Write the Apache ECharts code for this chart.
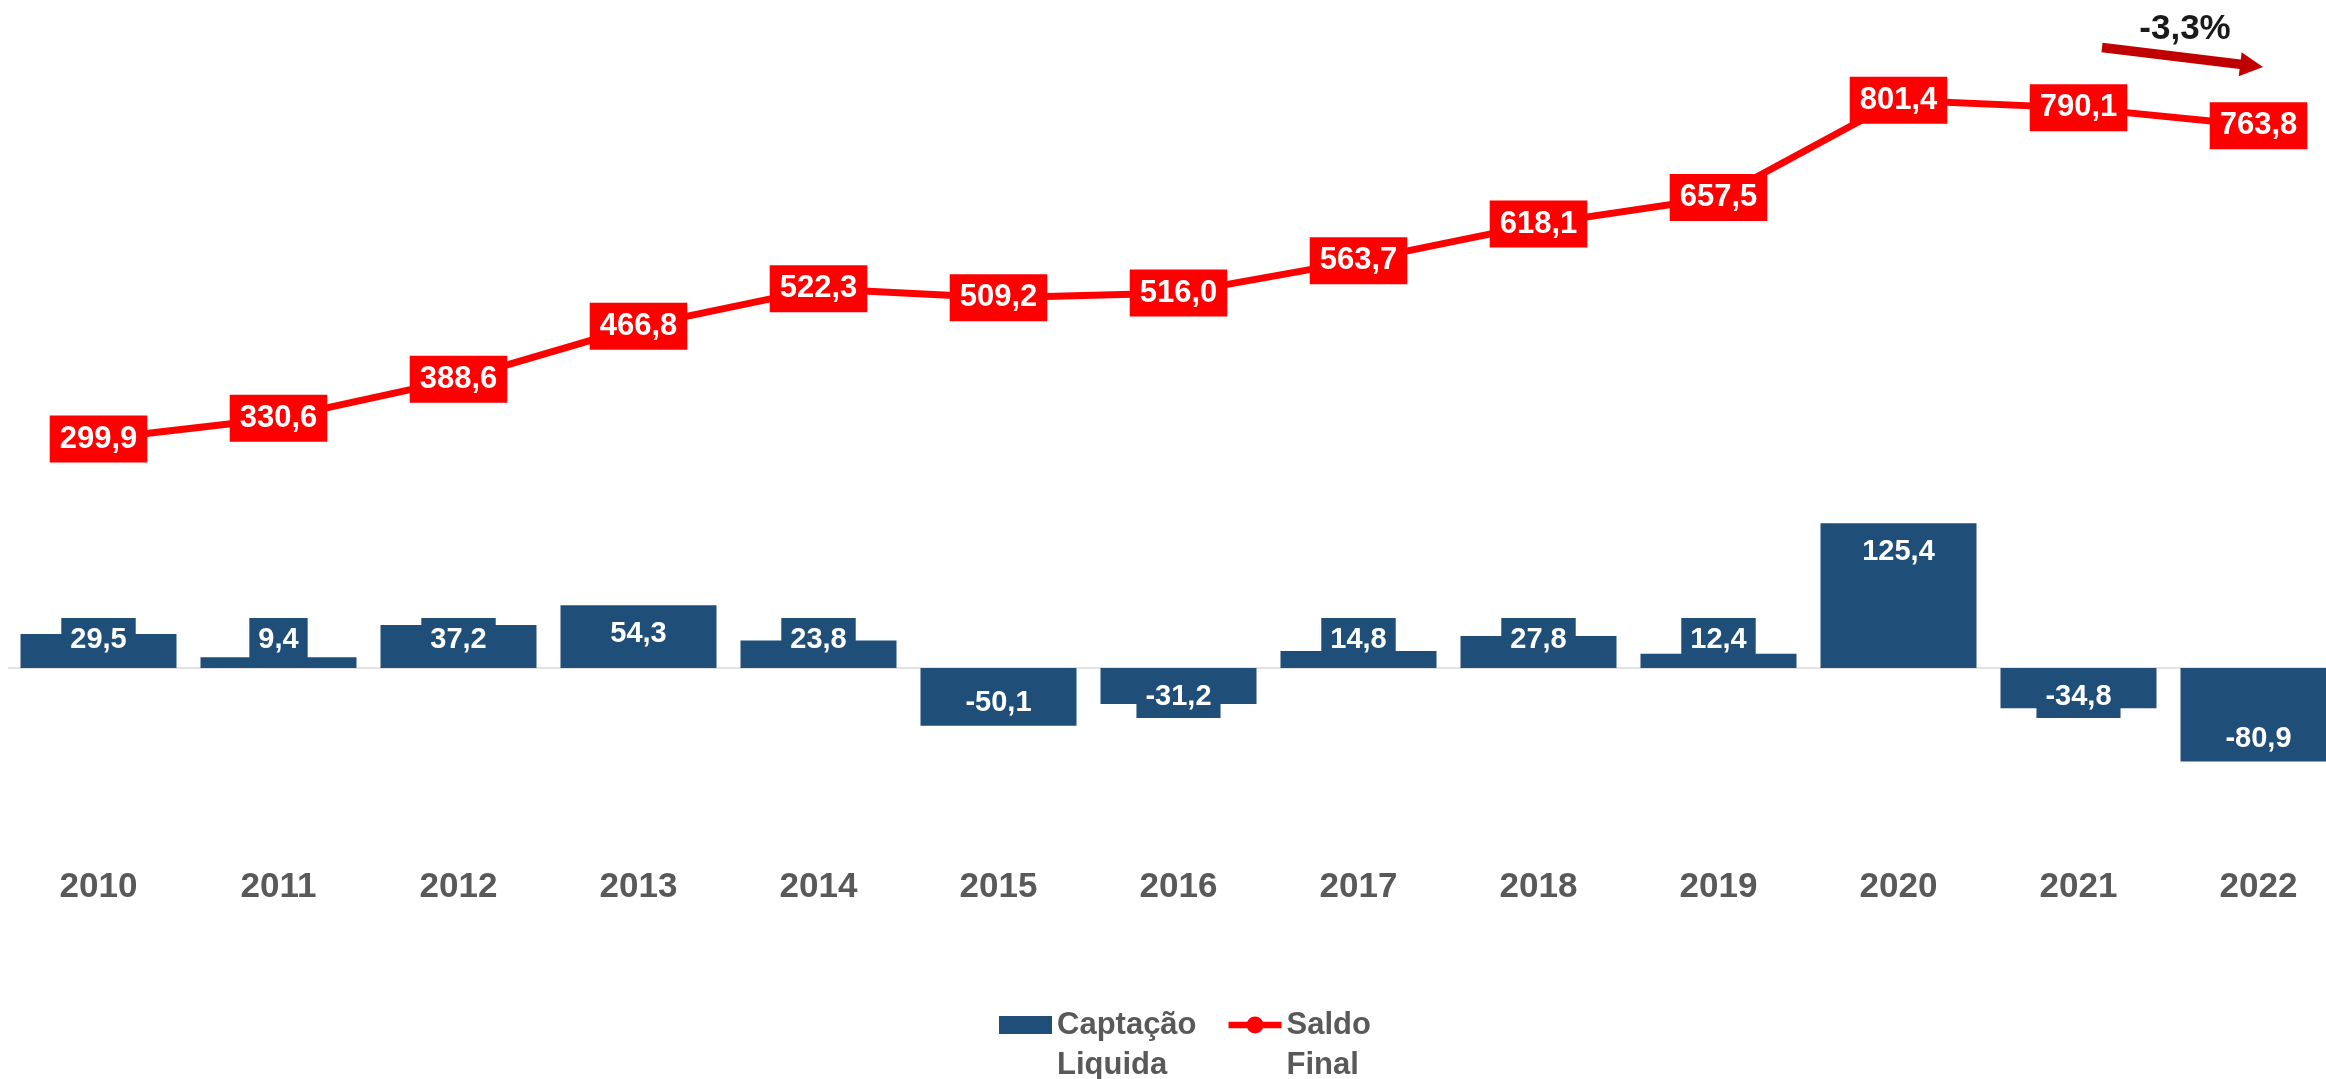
<!DOCTYPE html>
<html>
<head>
<meta charset="utf-8">
<script src="https://cdn.jsdelivr.net/npm/echarts@6/dist/echarts.min.js"></script>
<style>
  html, body { margin: 0; padding: 0; background: #ffffff; }
  #chart { width: 2326px; height: 1079px; }
</style>
</head>
<body>
<div id="chart"></div>
<script>
// Anos
const years = ['2010', '2011', '2012', '2013', '2014', '2015', '2016', '2017', '2018', '2019', '2020', '2021', '2022'];
// Captação líquida do ano (barras)
const captacao = [29.5, 9.4, 37.2, 54.3, 23.8, -50.1, -31.2, 14.8, 27.8, 12.4, 125.4, -34.8, -80.9];
// Saldo final do ano (linha)
const saldo = [299.9, 330.6, 388.6, 466.8, 522.3, 509.2, 516.0, 563.7, 618.1, 657.5, 801.4, 790.1, 763.8];

const FONT = "'Liberation Sans', Arial, sans-serif";
const BLUE = '#1F4E79';
const RED = '#FF0000';
const GREY = '#595959';

const fmt = v => v.toFixed(1).replace('.', ',');

// Short bars keep their label anchored at the base, long bars at the end
const LABEL_FIT = 48;
const barData = captacao.map(v => {
  const long = Math.abs(v) >= LABEL_FIT;
  let position, distance = 7;
  if (v >= 0) {
    position = long ? 'insideTop' : 'insideBottom';
  } else {
    position = long ? 'insideBottom' : 'insideTop';
    if (long) distance = 1;
  }
  return { value: v, label: { position, distance } };
});

// Variação do último ano
const last = saldo.length - 1;
const change = (saldo[last] / saldo[last - 1] - 1) * 100;
const changeText = fmt(change) + '%';

// Legend names, two lines each; the leading blank line lifts the first line level with the icon
const legendText = {
  'Captação': '\nCaptação\nLiquida',
  'Saldo': '\nSaldo\nFinal'
};

// Legend icon for the line: thick stroke with a round marker
const LINE_ICON = 'path://M0,5.5 L56,5.5 L56,12.5 L0,12.5 Z M19,9 A9,9 0 1 1 37,9 A9,9 0 1 1 19,9 Z';

// Arrow shape for the change note
function arrowPoints(x1, y1, x2, y2, shaftHalf, headLen, headHalf) {
  const dx = x2 - x1, dy = y2 - y1;
  const len = Math.sqrt(dx * dx + dy * dy);
  const ux = dx / len, uy = dy / len;
  const nx = -uy, ny = ux;
  const bx = x2 - ux * headLen, by = y2 - uy * headLen;
  return [
    [x1 + nx * shaftHalf, y1 + ny * shaftHalf],
    [bx + nx * shaftHalf, by + ny * shaftHalf],
    [bx + nx * headHalf, by + ny * headHalf],
    [x2, y2],
    [bx - nx * headHalf, by - ny * headHalf],
    [bx - nx * shaftHalf, by - ny * shaftHalf],
    [x1 - nx * shaftHalf, y1 - ny * shaftHalf]
  ];
}

const chart = echarts.init(document.getElementById('chart'), null, { renderer: 'canvas' });

chart.setOption({
  animation: false,
  backgroundColor: '#ffffff',
  textStyle: { fontFamily: FONT },
  grid: {
    left: 8.5,
    top: 67.4,
    width: 2340,
    height: 739.2,
    outerBoundsMode: 'none',
    containLabel: false
  },
  legend: {
    left: 999,
    top: 965,
    padding: 0,
    itemWidth: 53,
    itemHeight: 18,
    itemGap: 32,
    data: [
      { name: 'Captação', icon: 'rect' },
      { name: 'Saldo', icon: LINE_ICON }
    ],
    formatter: name => legendText[name],
    textStyle: {
      color: GREY,
      fontSize: 31,
      fontWeight: 'bold',
      fontFamily: FONT,
      lineHeight: 40
    }
  },
  xAxis: {
    type: 'category',
    data: years,
    axisTick: { show: false },
    axisLine: {
      show: true,
      onZero: true,
      onZeroAxisIndex: 0,
      lineStyle: { color: '#D9D9D9', width: 1.5 }
    },
    axisLabel: {
      margin: 63,
      color: GREY,
      fontSize: 35,
      fontWeight: 'bold',
      fontFamily: FONT
    },
    splitLine: { show: false }
  },
  yAxis: [
    { type: 'value', min: -120, max: 520, show: false, splitLine: { show: false } },
    { type: 'value', min: -244, max: 850, show: false, splitLine: { show: false } }
  ],
  series: [
    {
      name: 'Captação',
      type: 'bar',
      yAxisIndex: 0,
      data: barData,
      barWidth: 156,
      itemStyle: { color: BLUE },
      label: {
        show: true,
        formatter: p => fmt(p.value),
        color: '#ffffff',
        fontSize: 29,
        fontWeight: 'bold',
        fontFamily: FONT,
        lineHeight: 29,
        backgroundColor: BLUE,
        padding: [7, 9]
      },
      z: 2
    },
    {
      name: 'Saldo',
      type: 'line',
      yAxisIndex: 1,
      data: saldo,
      symbol: 'circle',
      symbolSize: 12,
      lineStyle: { color: RED, width: 7 },
      itemStyle: { color: RED },
      label: {
        show: true,
        position: 'inside',
        formatter: p => fmt(p.value),
        color: '#ffffff',
        fontSize: 31,
        fontWeight: 'bold',
        fontFamily: FONT,
        lineHeight: 31,
        backgroundColor: RED,
        padding: [8, 10]
      },
      z: 3
    }
  ],
  graphic: [
    {
      type: 'polygon',
      shape: { points: arrowPoints(2102, 47.5, 2263, 67, 4.8, 23, 12) },
      style: { fill: '#C00000' },
      z: 10
    },
    {
      type: 'text',
      x: 2185,
      y: 29,
      style: {
        text: changeText,
        fill: '#1A1A1A',
        font: 'bold 35px ' + FONT,
        align: 'center',
        verticalAlign: 'middle'
      },
      z: 10
    }
  ]
});
</script>
</body>
</html>
